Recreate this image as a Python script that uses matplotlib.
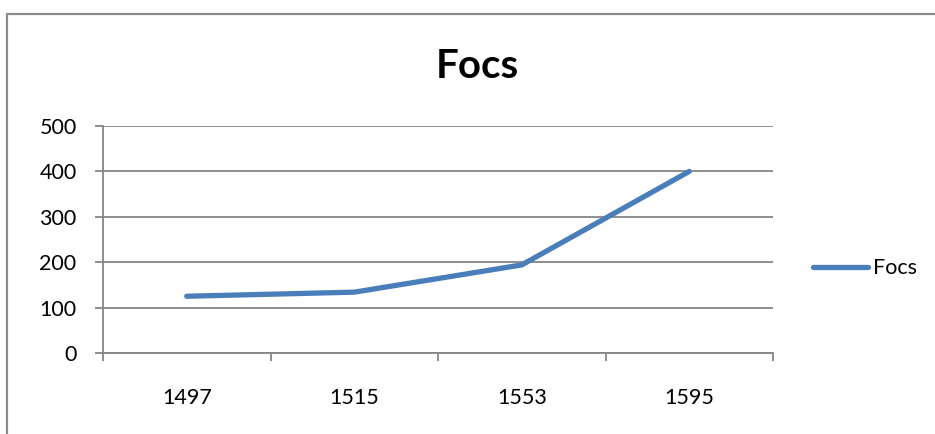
import matplotlib
matplotlib.use('Agg')
import matplotlib.pyplot as plt
from matplotlib.lines import Line2D

# Chart data
years = ['1497', '1515', '1553', '1595']
focs = [125, 134, 194, 400]
y_ticks = [0, 100, 200, 300, 400, 500]

plt.rcParams['font.family'] = ['Lato', 'DejaVu Sans']

W, H = 935, 434
fig = plt.figure(figsize=(W / 100, H / 100), dpi=100)
fig.patch.set_facecolor('white')

# outer chart border (right and bottom run off the picture)
bx, by = 7 / W, 1 - 14 / H
fig.add_artist(Line2D([bx, bx, 1.01], [-0.01, by, by], transform=fig.transFigure,
                      color='#8c8c8c', lw=1.6))

ax = fig.add_axes([103 / W, (H - 353) / H, 670 / W, 227 / H])

x = list(range(len(years)))
ax.plot(x, focs, color='#4a7ebb', lw=3.8, solid_capstyle='round',
        solid_joinstyle='round', label='Focs', zorder=3)

ax.set_xlim(-0.5, len(years) - 0.5)
ax.set_ylim(0, 500)
ax.set_yticks(y_ticks)
ax.set_yticklabels([str(v) for v in y_ticks])
ax.set_xticks(x)
ax.set_xticklabels(years)
ax.set_xticks([i - 0.5 for i in range(len(years) + 1)], minor=True)

ax.grid(axis='y', color='#868686', lw=1.3, zorder=1)
for s in ['top', 'right']:
    ax.spines[s].set_visible(False)
for s in ['left', 'bottom']:
    ax.spines[s].set_color('#868686')
    ax.spines[s].set_linewidth(1.3)

ax.tick_params(axis='y', length=6, width=1.3, color='#868686', pad=13,
               labelsize=15.5)
ax.tick_params(axis='x', which='major', length=0, pad=25, labelsize=15.5)
ax.tick_params(axis='x', which='minor', length=6, width=1.3, color='#868686')

fig.text(477 / W, 1 - 66 / H, 'Focs', ha='center', va='center',
         fontsize=29, fontweight='bold')

ax.legend(loc='center left', bbox_to_anchor=(1.06, 0.374), frameon=False,
          fontsize=15.5, handlelength=2.55, handletextpad=0.25,
          borderpad=0, borderaxespad=0)

fig.savefig('out.png', dpi=100, facecolor='white')
